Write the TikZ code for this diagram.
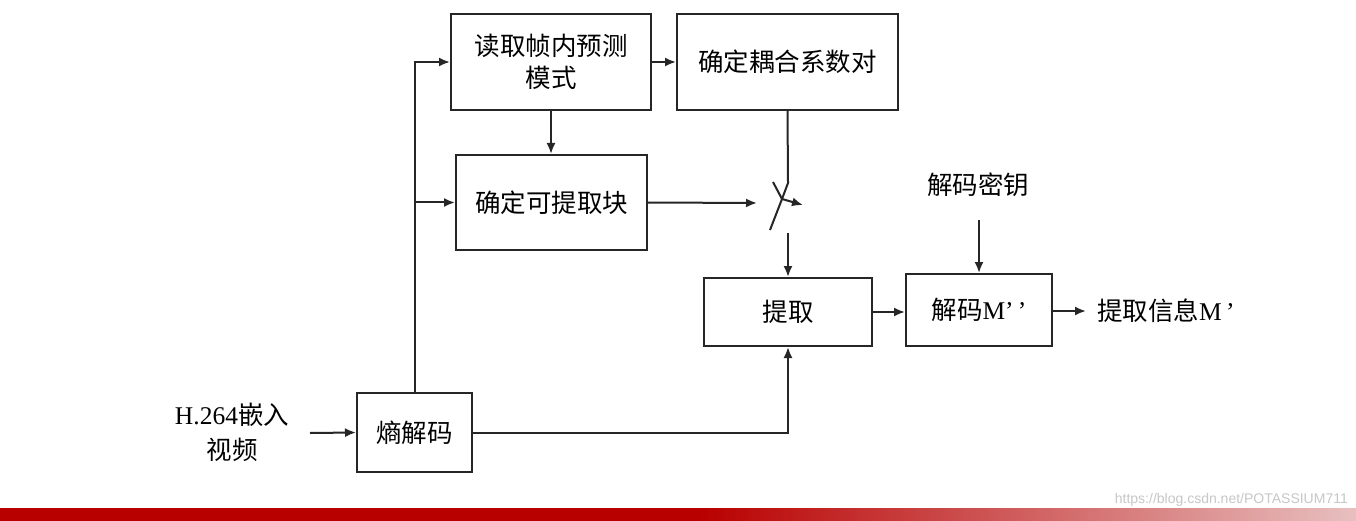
\documentclass[tikz,border=0pt]{standalone}
\usepackage{fontspec}
\setmainfont{Liberation Serif}
\newfontfamily\cjk{Noto Sans CJK SC}
\newfontfamily\wmfont{Liberation Sans}
\newcommand\latn{\rmfamily}
\usetikzlibrary{arrows.meta}
\definecolor{barred}{RGB}{185,0,0}
\definecolor{barpale}{RGB}{232,192,192}
\begin{document}
\begin{tikzpicture}[x=1pt,y=-1pt,
  blk/.style={draw=black!85, line width=2pt, inner sep=0pt, align=center, font=\fontsize{25.5}{32}\selectfont\cjk},
  lbl/.style={inner sep=0pt, align=center, font=\fontsize{25.5}{35}\selectfont\cjk},
  arr/.style={line width=2pt, draw=black!85, -{Latex[length=11pt,width=9pt]}},
  ln/.style={line width=2pt, draw=black!85}]
\useasboundingbox (0,0) rectangle (1356,521);
\fill[white] (0,0) rectangle (1356,521);

% boxes
\node[blk, minimum width=200pt, minimum height=96pt] (A) at (551,62) {读取帧内预测\\模式};
\node[blk, minimum width=221pt, minimum height=96pt] (B) at (787.5,62) {确定耦合系数对};
\node[blk, minimum width=191pt, minimum height=95pt] (C) at (551.5,202.5) {确定可提取块};
\node[blk, minimum width=168pt, minimum height=68pt] (D) at (788,312) {提取};
\node[blk, minimum width=146pt, minimum height=72pt] (E) at (979,310) {解码{\latn M'\,'}};
\node[blk, minimum width=115pt, minimum height=79pt] (F) at (414.5,432.5) {熵解码};

% labels
\node[lbl] (in) at (232,432) {{\latn H.264}嵌入\\视频};
\node[lbl] (key) at (978,185) {解码密钥};
\node[lbl, anchor=west] (out) at (1097,311) {提取信息{\latn M\,'}};

% coordinates
\coordinate (inS) at (310,433);
\coordinate (swin) at (757,203);
\coordinate (swtop) at (788,183);
\coordinate (swjoin) at (782,199);
\coordinate (swa) at (773,182);
\coordinate (swb) at (770,230);
\coordinate (swarr) at (803,205);
\coordinate (swout) at (788,233);
\coordinate (keyb) at (979,220);
\coordinate (outS) at (1086,311);

% connectors
\draw[arr] (inS) -- (F.west);
\draw[arr] (F.north) |- (A.west);
\draw[arr] (F.north |- C.west) -- (C.west);
\draw[arr] (A.south) -- (A.south |- C.north);
\draw[arr] (A.east) -- (B.west);
\draw[ln] (B.south) -- (swtop) -- (swjoin) -- (swb);
\draw[arr] (swa) -- (swjoin) -- (swarr);
\draw[arr] (C.east) -- (swin);
\draw[arr] (swout) -- (D.north);
\draw[arr] (F.east) -| (D.south);
\draw[arr] (D.east) -- (D.east -| E.west);
\draw[arr] (keyb) -- (keyb |- E.north);
\draw[arr] (E.east |- outS) -- (outS);

% bottom bar
\fill[barred] (0,508) rectangle (700,521);
\shade[left color=barred, right color=barpale] (700,508) rectangle (1356,521);

% watermark
\node[font=\fontsize{14}{14}\selectfont\wmfont, text=black!22, anchor=east, inner sep=0pt] (wm) at (1348,500) {https://blog.csdn.net/POTASSIUM711};
\end{tikzpicture}
\end{document}
